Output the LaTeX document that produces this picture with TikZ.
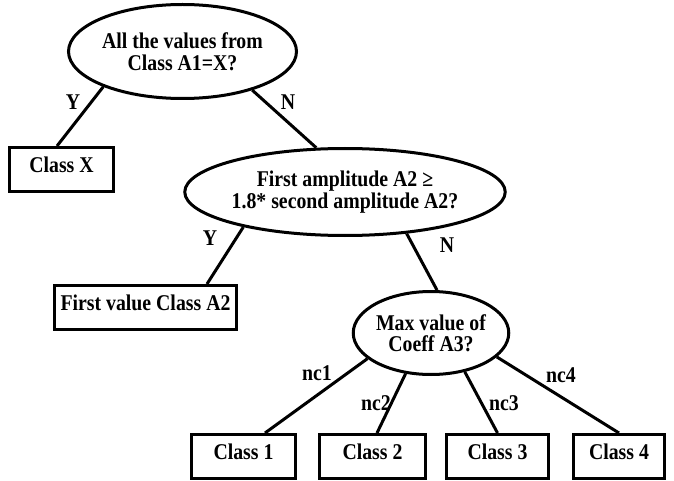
\documentclass[tikz,border=0pt]{standalone}
\usepackage{fontspec}
\setmainfont{Liberation Serif}[FakeStretch=0.88]
\usetikzlibrary{shapes.geometric}
\begin{document}
\begin{tikzpicture}[x=1pt,y=-1pt,
  every node/.style={font=\fontsize{22.5}{21.5}\selectfont\bfseries},
  q/.style={ellipse, draw, line width=3pt, inner sep=0pt, align=center},
  leaf/.style={rectangle, draw, line width=3pt, inner sep=0pt, text depth=9pt, minimum height=44pt},
  edge/.style={line width=3pt},
  lab/.style={anchor=base, inner sep=0pt}]
\useasboundingbox[fill=white] (0,0) rectangle (674,481);
\node[q, minimum width=228pt, minimum height=94pt] (e1) at (182.5,51.5) {All the values from\\Class A1=X?};
\node[q, minimum width=267pt, minimum height=87pt] (e2) at (345,192) {First amplitude A2 ≥\\1.8* second amplitude A2?};
\node[q, minimum width=155pt, minimum height=83pt] (e3) at (431,333) {Max value of\\Coeff A3?};
\node[leaf, minimum width=104pt] (cx) at (61.5,169.5) {Class X};
\node[leaf, minimum width=182pt] (fv) at (145.5,307.5) {First value Class A2};
\node[leaf, minimum width=104pt] (c1) at (243.5,456.5) {Class 1};
\node[leaf, minimum width=106pt] (c2) at (372.5,456.5) {Class 2};
\node[leaf, minimum width=102pt] (c3) at (497.5,456.5) {Class 3};
\node[leaf, minimum width=91pt] (c4) at (619,456.5) {Class 4};
\draw[edge] (e1.204) -- ([xshift=-4.5pt]cx.north);
\draw[edge] (e1.331) -- (e2.123);
\draw[edge] (e2.199) -- ([xshift=61.5pt]fv.north);
\draw[edge] (e2.326) -- (e3.82);
\draw[edge] (e3.202) -- ([xshift=21.5pt]c1.north);
\draw[edge] (e3.238) -- ([xshift=4.5pt]c2.north);
\draw[edge] (e3.311) -- (c3.north);
\draw[edge] (e3.340) -- (c4.north);
\node[lab] (ly1) at (73,110) {Y};
\node[lab] (ln1) at (288,110) {N};
\node[lab] (ly2) at (210,245) {Y};
\node[lab] (ln2) at (447,252) {N};
\node[lab] (l1) at (317,380) {nc1};
\node[lab] (l2) at (376,410) {nc2};
\node[lab] (l3) at (504,410) {nc3};
\node[lab] (l4) at (561,382) {nc4};
\end{tikzpicture}
\end{document}
